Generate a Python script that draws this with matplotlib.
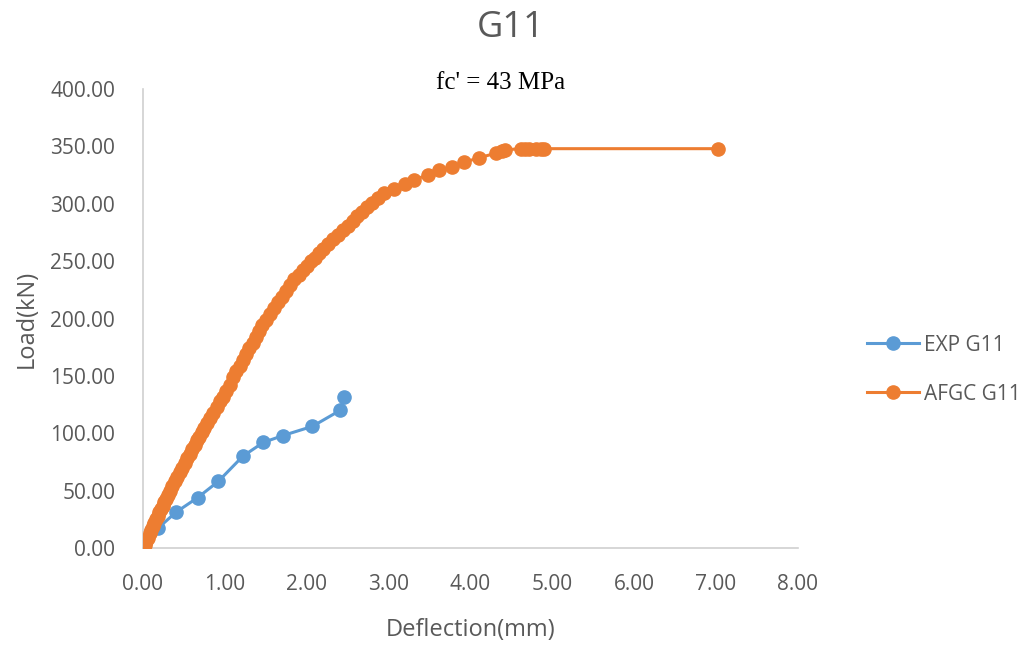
import matplotlib
matplotlib.use("Agg")
import matplotlib.pyplot as plt

# Experimental load-deflection record
exp_defl = [0.01, 0.18, 0.40, 0.67, 0.92, 1.22, 1.47, 1.71, 2.07, 2.41, 2.46]
exp_load = [0.0, 17.0, 31.0, 44.0, 58.0, 80.0, 92.0, 98.0, 106.0, 120.0, 132.0]

# AFGC model prediction
afgc_defl = [0.00, 0.02, 0.04, 0.06, 0.08, 0.10, 0.12, 0.14, 0.16, 0.18,
             0.20, 0.22, 0.24, 0.26, 0.28, 0.30, 0.33, 0.36, 0.39, 0.42,
             0.45, 0.48, 0.51, 0.54, 0.57, 0.60, 0.63, 0.66, 0.69, 0.72,
             0.75, 0.78, 0.82, 0.86, 0.90, 0.94, 0.98, 1.02, 1.06, 1.10,
             1.14, 1.18, 1.22, 1.26, 1.30, 1.34, 1.38, 1.42, 1.46, 1.50,
             1.55, 1.60, 1.65, 1.70, 1.75, 1.80, 1.85, 1.90, 1.95, 2.00,
             2.05, 2.10, 2.15, 2.20, 2.26, 2.32, 2.38, 2.44, 2.50, 2.56,
             2.62, 2.68, 2.74, 2.80, 2.87, 2.95, 3.07, 3.20, 3.31, 3.48,
             3.62, 3.77, 3.92, 4.10, 4.31, 4.38, 4.42, 4.62, 4.67, 4.72,
             4.80, 4.86, 4.90, 7.02]
afgc_load = [0, 3, 6, 9, 13, 16, 19, 22, 25, 28,
             31, 34, 37, 40, 43, 46, 50, 54, 58, 62,
             66, 70, 74, 78, 82, 86, 90, 94, 97, 101,
             105, 109, 113, 118, 123, 128, 132, 137, 142, 149,
             154, 159, 164, 169, 174, 179, 184, 189, 194, 199,
             204, 209, 214, 219, 224, 229, 234, 238, 242, 246,
             250, 253, 257, 261, 265, 269, 273, 277, 281, 285,
             289, 293, 297, 301, 305, 309, 313, 317, 321, 325,
             329, 332, 336, 340, 344, 346, 347, 348, 348, 348,
             348, 348, 348, 348]

x_ticks = [0, 1, 2, 3, 4, 5, 6, 7, 8]
y_ticks = [0, 50, 100, 150, 200, 250, 300, 350, 400]

plt.rcParams["font.family"] = ["Open Sans", "DejaVu Sans"]
text_grey = "#595959"
axis_grey = "#d0d0d0"

fig = plt.figure(figsize=(10.33, 6.45), dpi=100)
ax = fig.add_axes([0.1384, 0.1504, 0.634, 0.7116])

ax.plot(exp_defl, exp_load, color="#5B9BD5", lw=2.2, marker="o", ms=9.5,
        label="EXP G11", zorder=3)
ax.plot(afgc_defl, afgc_load, color="#ED7D31", lw=2.2, marker="o", ms=9.5,
        label="AFGC G11", zorder=4)

ax.set_xlim(0, 8)
ax.set_ylim(0, 400)
ax.set_xticks(x_ticks)
ax.set_yticks(y_ticks)
ax.set_xticklabels([f"{v:.2f}" for v in x_ticks])
ax.set_yticklabels([f"{v:.2f}" for v in y_ticks])
ax.tick_params(length=0, labelsize=15, colors=text_grey)
ax.tick_params(axis="y", pad=20)
ax.tick_params(axis="x", pad=19)
for side in ("top", "right"):
    ax.spines[side].set_visible(False)
for side in ("left", "bottom"):
    ax.spines[side].set_color(axis_grey)
    ax.spines[side].set_linewidth(1.2)
for lbl in ax.get_xticklabels() + ax.get_yticklabels():
    lbl.set_clip_on(False)
ax.margins(0)

ax.set_xlabel("Deflection(mm)", fontsize=17, color=text_grey, labelpad=16)
ax.set_ylabel("Load(kN)", fontsize=17, color=text_grey, labelpad=8)

fig.text(0.494, 0.957, "G11", ha="center", va="center", fontsize=26,
         color=text_grey)
fig.text(0.485, 0.871, "fc' = 43 MPa", ha="center", va="center", fontsize=18,
         family="Liberation Serif", color="black")

fig.legend(loc="center left", bbox_to_anchor=(0.821, 0.427), frameon=False,
           fontsize=15, labelcolor=text_grey, handlelength=2.5,
           handletextpad=0.25, labelspacing=1.35)

fig.savefig("out.png", dpi=100, facecolor="white")
